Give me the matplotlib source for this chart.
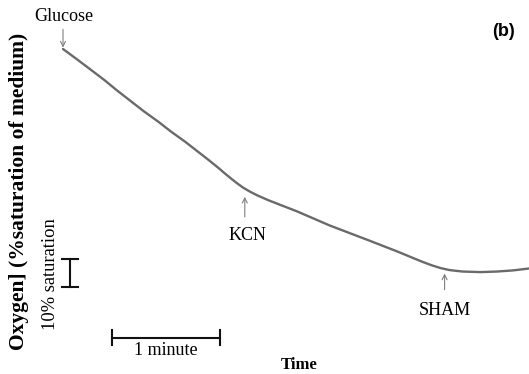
import matplotlib
matplotlib.use('Agg')
from matplotlib import pyplot as plt

# oxygen trace (time in s from glucose addition,
# oxygen in % saturation of medium)
TIME = [0, 8, 15, 23, 30, 38, 45, 53, 60, 68, 75, 81, 86, 90, 94, 97,
        100, 104, 108, 114, 120, 130, 148, 170, 186, 195, 200, 205, 210,
        215, 222, 232, 241, 250, 259]
OXYGEN = [100, 96.2, 92.8, 88.9, 85.2, 81.2, 77.7, 74, 70.5, 66.8, 63.3,
          60.3, 57.7, 55.5, 53.4, 51.9, 50.5, 49, 47.7, 46, 44.5, 42,
          37, 31.6, 27.6, 25.2, 23.9, 22.7, 21.7, 21, 20.5, 20.3, 20.5,
          20.9, 21.6]

EVENTS = ['Glucose', 'KCN', 'SHAM']
EVENT_TIME = [0, 101, 212]
SCALE_TIME = 60      # s, "1 minute"
SCALE_OXYGEN = 10    # %, "10% saturation"

SERIF = 'Liberation Serif'
GREY = '#6a6a6a'

fig = plt.figure(figsize=(5.29, 3.74), dpi=100)
ax = fig.add_axes([0, 0, 1, 1])
ax.set_xlim(-35, 258.9)
ax.set_ylim(-16.1, 117.5)
ax.axis('off')

ax.plot(TIME, OXYGEN, color=GREY, lw=1.7, solid_capstyle='round')

arrow = dict(arrowstyle='->', color='#808080', lw=0.8,
             shrinkA=0, shrinkB=0, mutation_scale=9)

# glucose: arrow coming down onto the start of the trace
ax.annotate('', xy=(EVENT_TIME[0], 100.5), xytext=(EVENT_TIME[0], 107),
            arrowprops=arrow)
ax.text(EVENT_TIME[0] + 0.5, 111.6, EVENTS[0], ha='center', va='center',
        family=SERIF, fontsize=13)

# KCN and SHAM: arrows pointing up from below the trace
ax.annotate('', xy=(EVENT_TIME[1], 47.2), xytext=(EVENT_TIME[1], 40),
            arrowprops=arrow)
ax.text(EVENT_TIME[1] + 1.5, 33.2, EVENTS[1], ha='center', va='center',
        family=SERIF, fontsize=13)

ax.annotate('', xy=(EVENT_TIME[2], 19.8), xytext=(EVENT_TIME[2], 14),
            arrowprops=arrow)
ax.text(EVENT_TIME[2], 6.6, EVENTS[2], ha='center', va='center',
        family=SERIF, fontsize=13)

# vertical scale bar (10% saturation)
bx, by = 3.9, 15
ax.plot([bx, bx], [by, by + SCALE_OXYGEN], color='#111111', lw=1.5)
for yy in (by, by + SCALE_OXYGEN):
    ax.plot([bx - 4.4, bx + 4.4], [yy, yy], color='#111111', lw=1.5)
ax.text(-7.2, by + SCALE_OXYGEN / 2 - 0.6, '10% saturation', rotation=90,
        ha='center', va='center', family=SERIF, fontsize=13.3)

# horizontal scale bar (1 minute)
hx, hy = 27.2, -3.2
ax.plot([hx, hx + SCALE_TIME], [hy, hy], color='#111111', lw=1.5)
for xx in (hx, hx + SCALE_TIME):
    ax.plot([xx, xx], [hy - 2.7, hy + 2.7], color='#111111', lw=1.5)
ax.text(hx + SCALE_TIME / 2, -7.8, '1 minute', ha='center', va='center',
        family=SERIF, fontsize=13)

ax.text(-24.5, 49, 'Oxygen] (%saturation of medium)', rotation=90,
        ha='center', va='center', family=SERIF, fontsize=15.5,
        fontweight='bold')
ax.text(131, -12.9, 'Time', ha='center', va='center', family=SERIF,
        fontsize=12, fontweight='bold')
ax.text(244.5, 106.3, '(b)', ha='center', va='center',
        family='Liberation Sans', fontsize=13, fontweight='bold')

fig.savefig('out.png', dpi=100)
